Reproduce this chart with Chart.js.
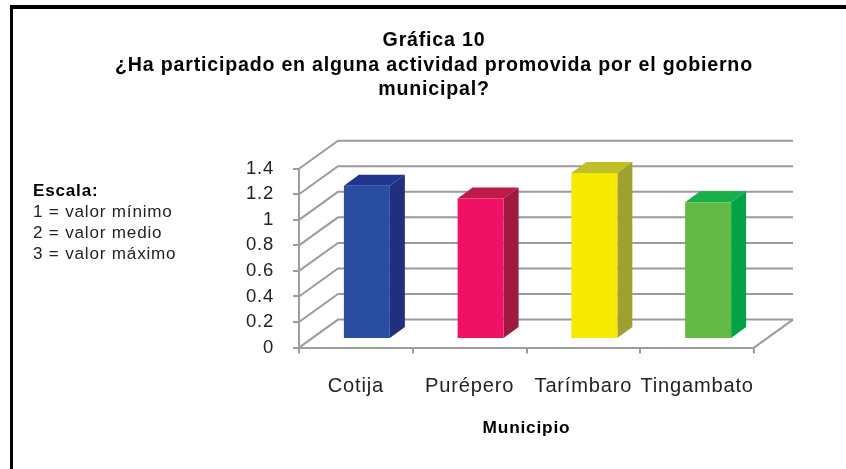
<!DOCTYPE html>
<html>
<head>
<meta charset="utf-8">
<script src="https://cdn.jsdelivr.net/npm/chart.js@4"></script>
<style>
html, body { margin: 0; background: #fff; }
#wrap { position: absolute; left: 0; top: 0; width: 846px; height: 469px; }
#frameTop { position: absolute; left: 10px; top: 5px; width: 836px; height: 4px; background: #000; }
#frameLeft { position: absolute; left: 10px; top: 5px; width: 3px; height: 464px; background: #000; }
</style>
</head>
<body>
<div id="wrap">
  <canvas id="myChart" width="846" height="469"></canvas>
  <div id="frameTop"></div>
  <div id="frameLeft"></div>
</div>
<script>
const municipios = ['Cotija', 'Purépero', 'Tarímbaro', 'Tingambato'];
const valores = [1.2, 1.1, 1.3, 1.07];
const tituloLineas = ['Gráfica 10', '¿Ha participado en alguna actividad promovida por el gobierno', 'municipal?'];
const escalaLineas = ['1 = valor mínimo', '2 = valor medio', '3 = valor máximo'];

const coloresFrente = ['#2a4e9f', '#ee1164', '#f5ea00', '#62b946'];
const coloresLado = ['#212f80', '#a01a3d', '#a0a030', '#00a347'];
const coloresTope = ['#203590', '#bc1a48', '#bfbf28', '#18b04a'];

const GRIS = '#9c9c9c';
// how far the back wall and the bars sit behind the front plane
const FONDO = { dx: 39, dy: -28 };
const BARRA = { dx: 11, dy: -8.5 };
const CARA = { dx: 15, dy: -11 };

const plugin3d = {
    id: 'plugin3d',
    beforeDraw(chart) {
        // the original text is spaced wider than plain Arial
        chart.ctx.letterSpacing = '0.8px';
    },
    beforeDatasetsDraw(chart) {
        const c = chart.ctx;
        const a = chart.chartArea;
        const y = chart.scales.y;
        c.save();
        c.strokeStyle = GRIS;
        c.lineWidth = 2;
        y.ticks.forEach(t => {
            const py = y.getPixelForValue(t.value);
            c.beginPath();
            c.moveTo(a.left, py);
            c.lineTo(a.left + FONDO.dx, py + FONDO.dy);
            c.lineTo(a.right + FONDO.dx, py + FONDO.dy);
            c.stroke();
        });
        c.beginPath();
        c.moveTo(a.right, a.bottom);
        c.lineTo(a.right + FONDO.dx, a.bottom + FONDO.dy);
        c.stroke();
        c.restore();
    },
    beforeDatasetDraw(chart) {
        const c = chart.ctx;
        const barras = chart.getDatasetMeta(0).data;
        c.save();
        barras.forEach((b, i) => {
            const mitad = b.width / 2;
            const izq = b.x - mitad + BARRA.dx;
            const der = b.x + mitad + BARRA.dx;
            const arriba = b.y + BARRA.dy;
            const abajo = b.base + BARRA.dy;
            c.fillStyle = coloresTope[i];
            c.beginPath();
            c.moveTo(izq, arriba);
            c.lineTo(izq + CARA.dx, arriba + CARA.dy);
            c.lineTo(der + CARA.dx, arriba + CARA.dy);
            c.lineTo(der, arriba);
            c.closePath();
            c.fill();
            c.fillStyle = coloresLado[i];
            c.beginPath();
            c.moveTo(der, arriba);
            c.lineTo(der + CARA.dx, arriba + CARA.dy);
            c.lineTo(der + CARA.dx, abajo + CARA.dy);
            c.lineTo(der, abajo);
            c.closePath();
            c.fill();
        });
        // the front faces are drawn by the library, moved back into the box
        c.translate(BARRA.dx, BARRA.dy);
    },
    afterDatasetDraw(chart) {
        chart.ctx.restore();
    },
    afterDraw(chart) {
        const c = chart.ctx;
        c.save();
        c.textAlign = 'left';
        c.textBaseline = 'middle';
        c.fillStyle = '#000';
        c.font = 'bold 17.1px "Liberation Sans"';
        c.fillText('Escala:', 33, 191);
        c.font = '17.1px "Liberation Sans"';
        c.fillStyle = '#222';
        escalaLineas.forEach((l, i) => c.fillText(l, 33, 212 + i * 21));
        c.restore();
    }
};

const ctx = document.getElementById('myChart').getContext('2d');

const myChart = new Chart(ctx, {
    type: 'bar',
    data: {
        labels: municipios,
        datasets: [{
            data: valores,
            backgroundColor: coloresFrente,
            barPercentage: 0.404,
            categoryPercentage: 1
        }]
    },
    plugins: [plugin3d],
    options: {
        responsive: false,
        animation: false,
        layout: { padding: { left: 114, right: 92, top: 29, bottom: 32 } },
        plugins: {
            legend: { display: false },
            tooltip: { enabled: false },
            title: {
                display: true,
                text: tituloLineas,
                color: '#000',
                font: { family: '"Liberation Sans"', size: 19.6, weight: 'bold', lineHeight: 1.228 },
                padding: { top: 0, bottom: 67.5 }
            }
        },
        scales: {
            x: {
                grid: { drawOnChartArea: false, color: GRIS, lineWidth: 2, tickLength: 6 },
                border: { color: GRIS, width: 2 },
                ticks: {
                    color: '#222',
                    padding: 21,
                    maxRotation: 0,
                    autoSkip: false,
                    font: { family: '"Liberation Sans"', size: 20.1 }
                },
                title: {
                    display: true,
                    text: 'Municipio',
                    color: '#000',
                    font: { family: '"Liberation Sans"', size: 17.3, weight: 'bold', lineHeight: 1 },
                    padding: { top: 0, bottom: 0 }
                }
            },
            y: {
                min: 0,
                max: 1.4,
                grid: { drawOnChartArea: false, color: GRIS, lineWidth: 2, tickLength: 6 },
                border: { color: GRIS, width: 2 },
                ticks: {
                    stepSize: 0.2,
                    autoSkip: false,
                    color: '#222',
                    padding: 19,
                    font: { family: '"Liberation Sans"', size: 18.5 },
                    callback: v => String(+v.toFixed(1))
                },
                afterFit(scale) { scale.width = 185; }
            }
        }
    }
});
</script>
</body>
</html>
